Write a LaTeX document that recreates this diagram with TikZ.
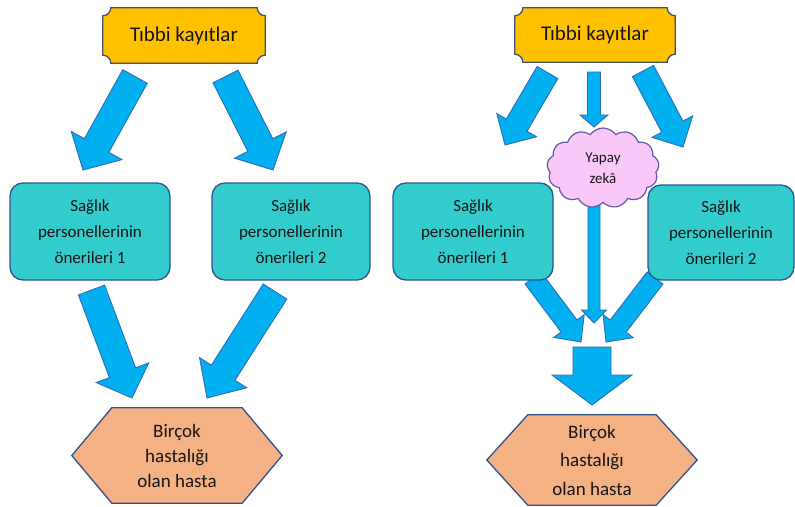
\documentclass[tikz,border=0pt]{standalone}
\usepackage{fontspec}
\setmainfont{Carlito}
\usetikzlibrary{calc,shapes.symbols,backgrounds}
\definecolor{gold}{HTML}{FFC000}
\definecolor{plaqueE}{HTML}{44546A}
\definecolor{edgeB}{HTML}{2F528F}
\definecolor{turq}{HTML}{33CCCC}
\definecolor{arrF}{HTML}{00B0F0}
\definecolor{arrE}{HTML}{2E6DB4}
\definecolor{hexF}{HTML}{F4B183}
\definecolor{cloudF}{HTML}{FAC8F8}
\definecolor{cloudE}{HTML}{5E5AA6}
\definecolor{txt}{HTML}{161616}
% concave-corner plaque drawn around a node
\newcommand\plaquepath[1]{%
  \draw[plaqueedge]
    ($(#1.north west)+(8pt,0pt)$) -- ($(#1.north east)+(-8pt,0pt)$)
    .. controls ($(#1.north east)+(-8pt,-4.4pt)$) and ($(#1.north east)+(-4.4pt,-8pt)$) .. ($(#1.north east)+(0pt,-8pt)$)
    -- ($(#1.south east)+(0pt,8pt)$)
    .. controls ($(#1.south east)+(-4.4pt,8pt)$) and ($(#1.south east)+(-8pt,4.4pt)$) .. ($(#1.south east)+(-8pt,0pt)$)
    -- ($(#1.south west)+(8pt,0pt)$)
    .. controls ($(#1.south west)+(8pt,4.4pt)$) and ($(#1.south west)+(4.4pt,8pt)$) .. ($(#1.south west)+(0pt,8pt)$)
    -- ($(#1.north west)+(0pt,-8pt)$)
    .. controls ($(#1.north west)+(4.4pt,-8pt)$) and ($(#1.north west)+(8pt,-4.4pt)$) .. cycle;}
% elongated hexagon drawn around a node
\newcommand\hexpath[2]{%
  \draw[hexedge] (#1.west) -- ($(#1.north west)+(#2,0pt)$) -- ($(#1.north east)+(-#2,0pt)$)
    -- (#1.east) -- ($(#1.south east)+(-#2,0pt)$) -- ($(#1.south west)+(#2,0pt)$) -- cycle;}
% block arrow: tail, tip, half shaft width, half head width, head length
\newcommand\blockarrow[5]{%
  \coordinate (#1-hb) at ($(#2)!#5!(#1)$);
  \draw[barrow] ($(#1)!#3!90:(#2)$) -- ($(#1-hb)!#3!90:(#2)$) -- ($(#1-hb)!#4!90:(#2)$)
    -- (#2) -- ($(#1-hb)!#4!-90:(#2)$) -- ($(#1-hb)!#3!-90:(#2)$) -- ($(#1)!#3!-90:(#2)$) -- cycle;}
\begin{document}
\begin{tikzpicture}[x=1pt,y=-1pt,
  plaquetext/.style={minimum width=162pt, minimum height=55pt, inner sep=0pt, font=\fontsize{21}{25}\selectfont, text=txt},
  plaqueedge/.style={fill=gold, draw=plaqueE, line width=1.3pt},
  recbox/.style={draw=edgeB, fill=turq, rounded corners=13pt, line width=1.3pt, align=center, font=\fontsize{17}{26}\selectfont, text=txt, inner sep=0pt, minimum height=97pt},
  hexbox/.style={align=center, text=txt, inner sep=0pt, minimum width=210pt},
  hexedge/.style={fill=hexF, draw=edgeB, line width=1.3pt, line join=miter},
  barrow/.style={fill=arrF, draw=arrE, line width=0.9pt, line join=miter},
  puff/.style={shape=cloud, cloud puffs=13, cloud puff arc=110, aspect=1.4, draw=cloudE, fill=cloudF, line width=1.2pt, minimum width=112pt, minimum height=80pt, inner sep=0pt, align=center, font=\fontsize{15}{21}\selectfont, text=txt}
]
\useasboundingbox (0,0) rectangle (795,506);

% ---------- left diagram ----------
\node[plaquetext] (t1) at (184,35.5) {Tıbbi kayıtlar};
\begin{scope}[on background layer]\plaquepath{t1}\end{scope}

\coordinate (la1) at (135,76.5);  \coordinate (la1e) at (83,170);
\coordinate (la2) at (225.5,76.5); \coordinate (la2e) at (273,170);
\blockarrow{la1}{la1e}{14pt}{29pt}{28pt}
\blockarrow{la2}{la2e}{14pt}{29pt}{28pt}

\node[recbox, minimum width=160pt] (s1) at (90,231.5) {Sağlık\\personellerinin\\önerileri 1};
\node[recbox, minimum width=158pt] (s2) at (291,231.5) {Sağlık\\personellerinin\\önerileri 2};

\coordinate (lb1) at (91.5,290); \coordinate (lb1e) at (132,398);
\coordinate (lb2) at (275,291.5); \coordinate (lb2e) at (207,398);
\blockarrow{lb1}{lb1e}{14pt}{28pt}{27pt}
\blockarrow{lb2}{lb2e}{14pt}{28pt}{30pt}

\node[hexbox, minimum height=95pt, font=\fontsize{19}{25}\selectfont] (h1) at (177,455.5) {Birçok\\hastalığı\\olan hasta};
\begin{scope}[on background layer]\hexpath{h1}{40pt}\end{scope}

% ---------- right diagram ----------
\node[plaquetext, minimum width=160pt, minimum height=54pt] (t2) at (595,35) {Tıbbi kayıtlar};
\begin{scope}[on background layer]\plaquepath{t2}\end{scope}

\coordinate (ra1) at (547.5,72.5); \coordinate (ra1e) at (505,145);
\coordinate (ra2) at (594,72);     \coordinate (ra2e) at (594,127);
\coordinate (ra3) at (643,71);     \coordinate (ra3e) at (683,147);
\blockarrow{ra1}{ra1e}{12pt}{23pt}{23pt}
\blockarrow{ra2}{ra2e}{6.5pt}{14pt}{12pt}
\blockarrow{ra3}{ra3e}{12pt}{23pt}{23pt}

\coordinate (rc) at (594,200); \coordinate (rce) at (594,323);
\blockarrow{rc}{rce}{6pt}{12.5pt}{13pt}
\coordinate (rb1) at (533,278); \coordinate (rb1e) at (581,342);
\coordinate (rb2) at (655,278); \coordinate (rb2e) at (606,342);
\blockarrow{rb1}{rb1e}{10pt}{19pt}{20pt}
\blockarrow{rb2}{rb2e}{10pt}{19pt}{20pt}

\node[puff] (ai) at (603,168) {Yapay\\zekâ};

\node[recbox, minimum width=160pt] (s3) at (473,231.5) {Sağlık\\personellerinin\\önerileri 1};
\node[recbox, minimum width=146pt, minimum height=95pt] (s4) at (721,232.5) {Sağlık\\personellerinin\\önerileri 2};

\coordinate (bd) at (592,347); \coordinate (bde) at (592,405);
\blockarrow{bd}{bde}{19pt}{40pt}{30pt}

\node[hexbox, minimum height=90pt, font=\fontsize{19}{28.5}\selectfont] (h2) at (592,460) {Birçok\\hastalığı\\olan hasta};
\begin{scope}[on background layer]\hexpath{h2}{41pt}\end{scope}
\end{tikzpicture}
\end{document}
